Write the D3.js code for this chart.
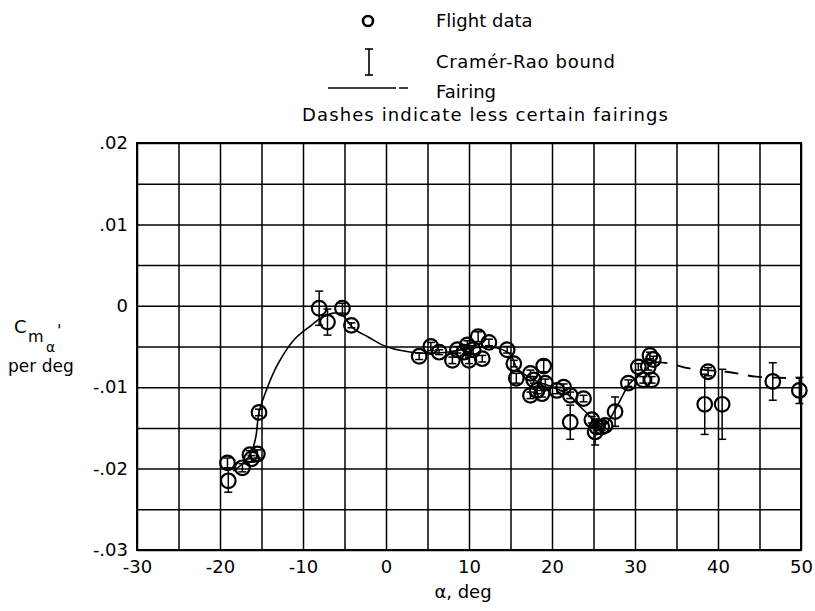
<!DOCTYPE html>
<html>
<head>
<meta charset="utf-8">
<script src="https://cdn.jsdelivr.net/npm/d3@7"></script>
<style>
  html, body { margin: 0; padding: 0; background: #fff; }
  svg { display: block; }
  text { font-family: "DejaVu Sans", sans-serif; fill: #000; }
</style>
</head>
<body>
<svg id="chart" width="815" height="611"></svg>
<script>
// Flight-derived values of Cm-alpha' versus angle of attack
const alphaDeg = [-19.1, -19.0, -17.3, -16.4, -16.2, -15.5, -15.3, -8.05, -7.05, -5.25, -4.17,
  4.0, 5.4, 6.4, 8.0, 8.6, 9.4, 9.8, 10.0, 10.5, 11.1, 11.6, 12.4,
  14.6, 15.4, 15.7, 17.4, 17.4, 17.8, 18.2, 18.8, 19.0, 19.2, 20.6, 21.4,
  22.2, 22.2, 23.8, 24.8, 25.2, 25.4, 26.0, 26.4, 27.6, 29.2, 30.4, 31.0,
  31.6, 31.8, 32.0, 32.2, 38.4, 38.8, 40.5, 46.6, 49.8];
const cmAlpha = [-0.0193, -0.0215, -0.0199, -0.0183, -0.0188, -0.0182, -0.0131, -0.0003, -0.0020, -0.0003, -0.0024,
  -0.0062, -0.0050, -0.0057, -0.0067, -0.0054, -0.0057, -0.0048, -0.0067, -0.0054, -0.0038, -0.0065, -0.0045,
  -0.0054, -0.0071, -0.0089, -0.0083, -0.0110, -0.0091, -0.0104, -0.0108, -0.0074, -0.0095, -0.0104, -0.0100,
  -0.0110, -0.0143, -0.0114, -0.0140, -0.0155, -0.0149, -0.0149, -0.0147, -0.0130, -0.0095, -0.0075, -0.0091,
  -0.0075, -0.0061, -0.0091, -0.0066, -0.0121, -0.0081, -0.0121, -0.0093, -0.0104];
// Cramér-Rao bound (half-height of each error bar)
const crBound = [0.0006, 0.0014, 0.0005, 0.0005, 0.0004, 0.0005, 0.0004, 0.0021, 0.0016, 0.0006, 0.0003,
  0.0004, 0.0005, 0.0003, 0.0004, 0.0004, 0.0004, 0.0005, 0.0004, 0.0005, 0.0006, 0.0004, 0.0004,
  0.0004, 0.0004, 0.0006, 0.0004, 0.0004, 0.0004, 0.0004, 0.0004, 0.0007, 0.0005, 0.0004, 0.0004,
  0.0004, 0.0021, 0.0004, 0.0004, 0.0016, 0.0004, 0.0004, 0.0004, 0.0018, 0.0004, 0.0004, 0.0004,
  0.0004, 0.0004, 0.0004, 0.0004, 0.0037, 0.0005, 0.0043, 0.0023, 0.0016];

// Fairing through the data (solid) and its less certain extension (dashed)
const fairAlpha = [-18.4, -17.3, -16.3, -15.7, -15.3, -14.5, -13.1, -11.1, -9.0, -8.0, -6.3, -5.3, -3.9, -2.2, 0, 4, 7.4, 10.2, 13, 15, 15.8, 17.8, 20.6, 22.3, 23.0, 24.6, 25.4, 26.4, 27.8, 29.4, 30.6, 32.2];
const fairCm    = [-0.0203, -0.0194, -0.0182, -0.0162, -0.0131, -0.0106, -0.0073, -0.0042, -0.0024, -0.0016, -0.0009, -0.0011, -0.0028, -0.0038, -0.0050, -0.0058, -0.0057, -0.0052, -0.0051, -0.0060, -0.0077, -0.0091, -0.0102, -0.0112, -0.0120, -0.0136, -0.0147, -0.0146, -0.0124, -0.0095, -0.0085, -0.0069];
const dashAlpha = [32.2, 34.2, 36.6, 41.0, 44.6, 50];
const dashCm    = [-0.0069, -0.0071, -0.0077, -0.0081, -0.0087, -0.0089];

// Axis ticks
const xLabelTicks = [-30, -20, -10, 0, 10, 20, 30, 40, 50];
const yLabelTicks = [0.02, 0.01, 0, -0.01, -0.02, -0.03];
const yTickText = [".02", ".01", "0", "-.01", "-.02", "-.03"];

const svg = d3.select("#chart");
const plotL = 137, plotR = 801, plotT = 143, plotB = 550;
const x = d3.scaleLinear().domain([-30, 50]).range([plotL, plotR]);
const y = d3.scaleLinear().domain([-0.03, 0.02]).range([plotB, plotT]);

// Grid every 5 deg and every 0.005
const gridX = svg.append("g").attr("transform", `translate(0,${plotB})`)
  .call(d3.axisBottom(x).tickValues(d3.range(-30, 51, 5)).tickSize(-(plotB - plotT)).tickFormat(""));
const gridY = svg.append("g").attr("transform", `translate(${plotL},0)`)
  .call(d3.axisLeft(y).tickValues(d3.range(-0.03, 0.0201, 0.005)).tickSize(-(plotR - plotL)).tickFormat(""));
[gridX, gridY].forEach(g => {
  g.select(".domain").remove();
  g.selectAll("line").attr("stroke", "#000").attr("stroke-width", 1.5);
});
svg.append("rect").attr("x", plotL).attr("y", plotT)
  .attr("width", plotR - plotL).attr("height", plotB - plotT)
  .attr("fill", "none").attr("stroke", "#000").attr("stroke-width", 2);

// Tick labels
const xl = svg.append("g").attr("transform", `translate(0,${plotB})`)
  .call(d3.axisBottom(x).tickValues(xLabelTicks).tickSize(0).tickPadding(10).tickFormat(d => String(d)));
xl.select(".domain").remove();
xl.selectAll("text").style("font-size", "18px").style("font-family", "DejaVu Sans, sans-serif").attr("fill", "#000");

const yl = svg.append("g").attr("transform", `translate(${plotL},0)`)
  .call(d3.axisLeft(y).tickValues(yLabelTicks).tickSize(0).tickPadding(9).tickFormat((d, i) => yTickText[i]));
yl.select(".domain").remove();
yl.selectAll("text").style("font-size", "18px").style("font-family", "DejaVu Sans, sans-serif").attr("fill", "#000");

// Axis titles
svg.append("text").attr("x", 463).attr("y", 598).attr("text-anchor", "middle")
  .style("font-size", "18px").text("α, deg");
svg.append("text").attr("x", 14).attr("y", 333).style("font-size", "18px").text("C");
svg.append("text").attr("x", 28).attr("y", 342).style("font-size", "16px").text("m");
svg.append("text").attr("x", 46).attr("y", 352).style("font-size", "14px").text("α");
svg.append("text").attr("x", 57).attr("y", 336).style("font-size", "16px").text("'");
svg.append("text").attr("x", 8).attr("y", 372).style("font-size", "17px").text("per deg");

// Fairings
const line = d3.line().x(d => x(d[0])).y(d => y(d[1])).curve(d3.curveCatmullRom.alpha(0.5));
svg.append("path").datum(d3.zip(fairAlpha, fairCm)).attr("d", line)
  .attr("fill", "none").attr("stroke", "#000").attr("stroke-width", 1.6);
svg.append("path").datum(d3.zip(dashAlpha, dashCm)).attr("d", line)
  .attr("fill", "none").attr("stroke", "#000").attr("stroke-width", 1.8)
  .attr("stroke-dasharray", "14,10");

// Error bars and data symbols
const pts = alphaDeg.map((a, i) => ({ a, c: cmAlpha[i], e: crBound[i] }));
const bars = svg.append("g").attr("stroke", "#000").attr("stroke-width", 1.5);
pts.forEach(p => {
  const cx = x(p.a), y1 = y(p.c + p.e), y2 = y(p.c - p.e);
  bars.append("line").attr("x1", cx).attr("x2", cx).attr("y1", y1).attr("y2", y2);
  bars.append("line").attr("x1", cx - 4).attr("x2", cx + 4).attr("y1", y1).attr("y2", y1);
  bars.append("line").attr("x1", cx - 4).attr("x2", cx + 4).attr("y1", y2).attr("y2", y2);
});
svg.append("g").selectAll("circle").data(pts).join("circle")
  .attr("cx", d => x(d.a)).attr("cy", d => y(d.c)).attr("r", 7.3)
  .attr("fill", "none").attr("stroke", "#000").attr("stroke-width", 2.2);

// Legend
const lg = svg.append("g");
lg.append("circle").attr("cx", 368).attr("cy", 21).attr("r", 5)
  .attr("fill", "none").attr("stroke", "#000").attr("stroke-width", 2.6);
lg.append("text").attr("x", 436).attr("y", 27).style("font-size", "18px").text("Flight data");
lg.append("line").attr("x1", 369).attr("x2", 369).attr("y1", 49).attr("y2", 75).attr("stroke", "#000").attr("stroke-width", 1.6);
lg.append("line").attr("x1", 365).attr("x2", 373).attr("y1", 49).attr("y2", 49).attr("stroke", "#000").attr("stroke-width", 1.6);
lg.append("line").attr("x1", 365).attr("x2", 373).attr("y1", 75).attr("y2", 75).attr("stroke", "#000").attr("stroke-width", 1.6);
lg.append("text").attr("x", 436).attr("y", 68).style("font-size", "18px")
  .attr("textLength", 179).attr("lengthAdjust", "spacing").text("Cramér-Rao bound");
lg.append("line").attr("x1", 328).attr("x2", 396).attr("y1", 88).attr("y2", 88).attr("stroke", "#000").attr("stroke-width", 1.5);
lg.append("line").attr("x1", 399).attr("x2", 408).attr("y1", 88).attr("y2", 88).attr("stroke", "#000").attr("stroke-width", 1.5);
lg.append("text").attr("x", 436).attr("y", 98).style("font-size", "18px").text("Fairing");
lg.append("text").attr("x", 302).attr("y", 121).style("font-size", "18px")
  .attr("textLength", 366).attr("lengthAdjust", "spacing").text("Dashes indicate less certain fairings");
</script>
</body>
</html>
